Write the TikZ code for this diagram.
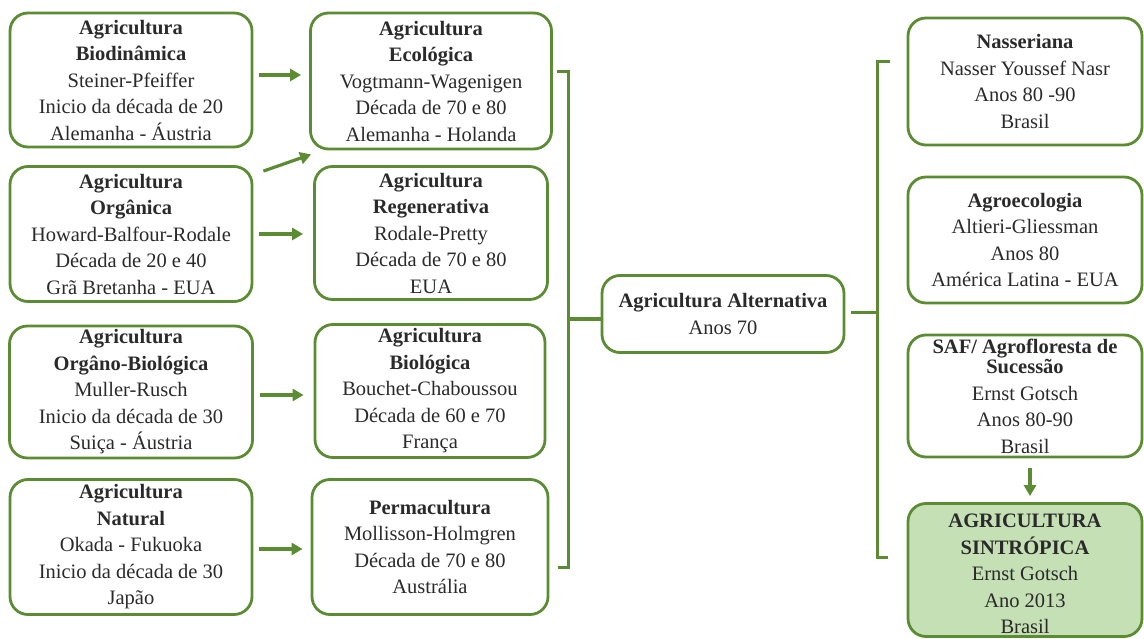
\documentclass[tikz,border=0pt]{standalone}
\usepackage{fontspec}
\setmainfont{Liberation Serif}
\usetikzlibrary{arrows.meta}
\definecolor{gc}{HTML}{5B8C34}
\definecolor{gfill}{HTML}{C5E0B4}
\definecolor{tx}{HTML}{2A2A2A}
\tikzset{
  box/.style={draw=gc, line width=2.8pt, rounded corners=18pt, align=center, inner sep=0pt,
    text=tx, font=\fontsize{20.5}{26.5}\selectfont},
  arr/.style={draw=gc, line width=3.2pt, -{Triangle[length=11pt,width=12pt]}},
  brk/.style={draw=gc, line width=3pt},
}
\begin{document}
\begin{tikzpicture}[x=1pt,y=-1pt]
\useasboundingbox (0,0) rectangle (1144,639);
% left column
\node[box, minimum width=242pt, minimum height=134pt] (b1) at (131,80)
  {\textbf{Agricultura}\\ \textbf{Biodinâmica}\\ Steiner-Pfeiffer\\ Inicio da década de 20\\ Alemanha - Áustria};
\node[box, minimum width=242pt, minimum height=135pt] (b2) at (131,234)
  {\textbf{Agricultura}\\ \textbf{Orgânica}\\ Howard-Balfour-Rodale\\ Década de 20 e 40\\ Grã Bretanha - EUA};
\node[box, minimum width=243pt, minimum height=132pt] (b3) at (131,392)
  {\textbf{Agricultura}\\ \textbf{Orgâno-Biológica}\\ Muller-Rusch\\ Inicio da década de 30\\ Suiça - Áustria};
\node[box, minimum width=242pt, minimum height=135pt] (b4) at (131,547)
  {\textbf{Agricultura}\\ \textbf{Natural}\\ Okada - Fukuoka\\ Inicio da década de 30\\ Japão};
% second column
\node[box, minimum width=241pt, minimum height=136pt] (c1) at (431,81)
  {\textbf{Agricultura}\\ \textbf{Ecológica}\\ Vogtmann-Wagenigen\\ Década de 70 e 80\\ Alemanha - Holanda};
\node[box, minimum width=233pt, minimum height=133pt] (c2) at (431,233)
  {\textbf{Agricultura}\\ \textbf{Regenerativa}\\ Rodale-Pretty\\ Década de 70 e 80\\ EUA};
\node[box, minimum width=230pt, minimum height=133pt] (c3) at (430,391)
  {\textbf{Agricultura}\\ \textbf{Biológica}\\ Bouchet-Chaboussou\\ Década de 60 e 70\\ França};
\node[box, minimum width=236pt, minimum height=135pt] (c4) at (430,547)
  {\textbf{Permacultura}\\ Mollisson-Holmgren\\ Década de 70 e 80\\ Austrália};
% centre
\node[box, minimum width=242pt, minimum height=77pt] (alt) at (723,314)
  {\textbf{Agricultura Alternativa}\\ Anos 70};
% right column
\node[box, minimum width=234pt, minimum height=127pt] (r1) at (1025,81.5)
  {\textbf{Nasseriana}\\ Nasser Youssef Nasr\\ Anos 80 -90\\ Brasil};
\node[box, minimum width=234pt, minimum height=126pt] (r2) at (1025,240)
  {\textbf{Agroecologia}\\ Altieri-Gliessman\\ Anos 80\\ América Latina - EUA};
\node[box, minimum width=234pt, minimum height=122pt] (r3) at (1025,396)
  {\textbf{SAF/ Agrofloresta de}\\[-6pt] \textbf{Sucessão}\\ Ernst Gotsch\\ Anos 80-90\\ Brasil};
\node[box, fill=gfill, minimum width=234pt, minimum height=133pt] (r4) at (1025,570)
  {\rule{0pt}{22pt}\textbf{AGRICULTURA}\\ \textbf{SINTRÓPICA}\\ Ernst Gotsch\\ Ano 2013\\ Brasil};
% arrows
\draw[arr, shorten <=6pt, shorten >=8pt] ([yshift=5pt]b1.east) -- ([yshift=5pt]b1.east -| c1.west);
\draw[arr, shorten <=6pt, shorten >=10pt] (b2.east) -- (b2.east -| c2.west);
\draw[arr, shorten <=6pt, shorten >=10pt] ([yshift=-3pt]b3.east) -- ([yshift=-3pt]b3.east -| c3.west);
\draw[arr, shorten <=6pt, shorten >=8pt] ([yshift=-2pt]b4.east) -- ([yshift=-2pt]b4.east -| c4.west);
\draw[arr] ([xshift=10pt,yshift=-6pt]b2.north east) -- ([xshift=2pt,yshift=-4pt]c1.south west);
\draw[arr, shorten <=10pt, shorten >=6pt] ([xshift=5pt]r3.south) -- ([xshift=5pt]r4.north);
% left bracket
\coordinate (lt) at (568,72);
\coordinate (lb) at (568,567);
\coordinate (lm) at (568,319);
\draw[brk] ([xshift=-11pt]lt) -- (lt) -- (lb) -- ([xshift=-10pt]lb);
\draw[brk] (lm) -- (lm -| alt.west);
% right bracket
\coordinate (rt) at (877,62);
\coordinate (rb) at (877,557);
\coordinate (rm) at (877,313);
\draw[brk] ([xshift=13pt]rt) -- (rt) -- (rb) -- ([xshift=11pt]rb);
\draw[brk] ([xshift=6pt]alt.east |- rm) -- (rm);
\end{tikzpicture}
\end{document}
